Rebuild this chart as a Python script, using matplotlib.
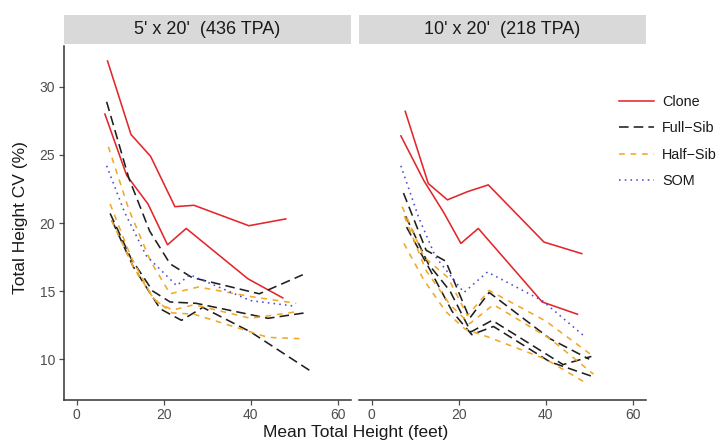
import matplotlib
matplotlib.use("Agg")
import matplotlib.pyplot as plt
from matplotlib.lines import Line2D
from matplotlib.patches import Rectangle

plt.rcParams['font.family'] = ['Liberation Sans', 'DejaVu Sans']

panel_titles = ["5' x 20'  (436 TPA)", "10' x 20'  (218 TPA)"]
groups = ["Clone", "Full\u2212Sib", "Half\u2212Sib", "SOM"]
x_ticks = [0, 20, 40, 60]
y_ticks = [10, 15, 20, 25, 30]

# ---- Left panel: 5' x 20' ----
clone_L1_x = [7.1, 12.5, 17.0, 22.6, 27.0, 39.6, 48.1]
clone_L1_y = [31.9, 26.5, 24.9, 21.2, 21.3, 19.8, 20.3]
clone_L2_x = [6.5, 11.5, 16.4, 20.9, 25.2, 39.4, 47.4]
clone_L2_y = [28.0, 23.5, 21.4, 18.4, 19.6, 15.9, 14.5]

full_L1_x = [6.9, 12.0, 16.8, 21.5, 26.5, 42.0, 52.0]
full_L1_y = [28.9, 23.3, 19.4, 17.0, 16.0, 14.8, 16.2]
full_L2_x = [7.7, 12.5, 17.5, 21.5, 27.5, 44.0, 52.5]
full_L2_y = [20.7, 17.4, 15.0, 14.2, 14.1, 13.0, 13.4]
full_L3_x = [8.1, 13.0, 19.2, 24.1, 29.0, 40.0, 54.4]
full_L3_y = [20.2, 16.8, 13.7, 12.85, 13.8, 12.0, 9.0]

half_L1_x = [7.3, 12.0, 17.0, 21.5, 28.0, 40.0, 50.5]
half_L1_y = [25.6, 21.0, 17.2, 14.8, 15.3, 14.6, 14.1]
half_L2_x = [7.7, 12.5, 17.5, 22.0, 27.0, 44.0, 52.0]
half_L2_y = [21.4, 17.5, 14.5, 13.4, 13.3, 11.6, 11.5]
half_L3_x = [8.0, 13.0, 18.0, 22.0, 27.0, 40.0, 51.0]
half_L3_y = [20.2, 16.8, 14.3, 13.6, 14.0, 13.0, 13.5]

som_L_x = [6.9, 11.0, 16.0, 23.0, 26.0, 40.0, 50.0]
som_L_y = [24.2, 20.8, 17.6, 15.4, 16.2, 14.3, 13.9]

# ---- Right panel: 10' x 20' ----
clone_R1_x = [7.7, 13.0, 17.4, 22.0, 26.8, 39.6, 48.3]
clone_R1_y = [28.2, 22.9, 21.7, 22.3, 22.8, 18.6, 17.75]
clone_R2_x = [6.7, 12.0, 16.5, 20.5, 24.5, 39.2, 47.3]
clone_R2_y = [26.4, 23.1, 20.8, 18.5, 19.6, 14.2, 13.3]

full_R1_x = [7.3, 12.5, 17.0, 22.5, 27.0, 41.0, 50.0]
full_R1_y = [22.2, 18.0, 17.2, 13.0, 14.9, 11.5, 10.0]
full_R2_x = [7.8, 13.0, 18.0, 22.8, 27.7, 44.0, 50.5]
full_R2_y = [20.5, 17.0, 15.0, 12.0, 12.85, 9.6, 10.2]
full_R3_x = [8.0, 13.5, 18.5, 23.0, 28.0, 41.0, 51.0]
full_R3_y = [19.7, 16.5, 13.5, 11.8, 12.4, 9.8, 8.7]

half_R1_x = [7.0, 12.0, 17.5, 22.0, 27.0, 40.0, 51.0]
half_R1_y = [21.2, 17.5, 16.0, 13.2, 15.05, 12.8, 10.2]
half_R2_x = [7.5, 12.5, 18.0, 22.5, 28.0, 41.0, 51.0]
half_R2_y = [20.5, 16.5, 14.0, 12.6, 14.0, 11.5, 8.9]
half_R3_x = [7.4, 12.0, 17.0, 21.5, 27.0, 40.0, 49.0]
half_R3_y = [18.5, 15.8, 13.5, 12.2, 11.6, 10.0, 8.3]

som_R_x = [6.7, 10.8, 14.7, 21.2, 26.6, 39.2, 49.2]
som_R_y = [24.2, 20.4, 17.5, 14.9, 16.4, 14.3, 11.6]

colors = {"Clone": "#E3262B", "Full\u2212Sib": "#1f1f1f",
          "Half\u2212Sib": "#F0A82A", "SOM": "#4a4ad6"}
styles = {"Clone": "-", "Full\u2212Sib": (0, (6, 3.2)),
          "Half\u2212Sib": (0, (3.6, 3.6)), "SOM": (0, (1, 2.6))}

panels = [
    [("Clone", clone_L1_x, clone_L1_y), ("Clone", clone_L2_x, clone_L2_y),
     ("Full\u2212Sib", full_L1_x, full_L1_y), ("Full\u2212Sib", full_L2_x, full_L2_y),
     ("Full\u2212Sib", full_L3_x, full_L3_y),
     ("Half\u2212Sib", half_L1_x, half_L1_y), ("Half\u2212Sib", half_L2_x, half_L2_y),
     ("Half\u2212Sib", half_L3_x, half_L3_y),
     ("SOM", som_L_x, som_L_y)],
    [("Clone", clone_R1_x, clone_R1_y), ("Clone", clone_R2_x, clone_R2_y),
     ("Full\u2212Sib", full_R1_x, full_R1_y), ("Full\u2212Sib", full_R2_x, full_R2_y),
     ("Full\u2212Sib", full_R3_x, full_R3_y),
     ("Half\u2212Sib", half_R1_x, half_R1_y), ("Half\u2212Sib", half_R2_x, half_R2_y),
     ("Half\u2212Sib", half_R3_x, half_R3_y),
     ("SOM", som_R_x, som_R_y)],
]

W, H = 724, 441
fig = plt.figure(figsize=(W / 100, H / 100), dpi=100)

ax_lefts = [63.6, 358.7]
ax_width = 287.0
ax_top, ax_bottom = 46.0, 400.0
strip_top, strip_bottom = 15.0, 44.0
tick_col = "#4D4D4D"
axis_col = "#333333"

for i, (series, title) in enumerate(zip(panels, panel_titles)):
    l = ax_lefts[i]
    ax = fig.add_axes([l / W, 1 - ax_bottom / H, ax_width / W, (ax_bottom - ax_top) / H])
    for g, xs, ys in series:
        ax.plot(xs, ys, color=colors[g], linestyle=styles[g], lw=1.15)
    ax.set_xlim(-3.0, 63.0)
    ax.set_ylim(7.0, 33.0)
    ax.set_xticks(x_ticks)
    ax.set_yticks(y_ticks)
    for s in ["top", "right"]:
        ax.spines[s].set_visible(False)
    for s in ["left", "bottom"]:
        ax.spines[s].set_color(axis_col)
        ax.spines[s].set_linewidth(1.1)
    ax.tick_params(axis="both", colors=tick_col, labelcolor=tick_col,
                   labelsize=10, length=3.5, width=0.9, pad=2.5)
    if i == 1:
        ax.spines["left"].set_visible(False)
        ax.tick_params(axis="y", left=False, labelleft=False)
    # strip
    sax = fig.add_axes([l / W, 1 - strip_bottom / H, ax_width / W, (strip_bottom - strip_top) / H])
    sax.add_patch(Rectangle((0, 0), 1, 1, transform=sax.transAxes,
                            facecolor="#D9D9D9", edgecolor="none"))
    sax.set_axis_off()
    sax.text(0.5, 0.5, title, ha="center", va="center", fontsize=13,
             color="#1A1A1A", transform=sax.transAxes)

fig.text(21 / W, 1 - 218 / H, "Total Height CV (%)", rotation=90,
         ha="center", va="center", fontsize=12.5, color="#1A1A1A")
fig.text(356 / W, 1 - 433 / H, "Mean Total Height (feet)",
         ha="center", va="center", fontsize=12.5, color="#1A1A1A")

handles = [Line2D([0], [0], color=colors[g], linestyle=styles[g], lw=1.15) for g in groups]
fig.legend(handles, groups, loc="upper left",
           bbox_to_anchor=(606 / W, 1 - 82 / H), frameon=False,
           fontsize=10.4, handlelength=2.4, labelspacing=0.85, handletextpad=0.6,
           labelcolor="#1A1A1A")

fig.savefig("out.png", dpi=100)
